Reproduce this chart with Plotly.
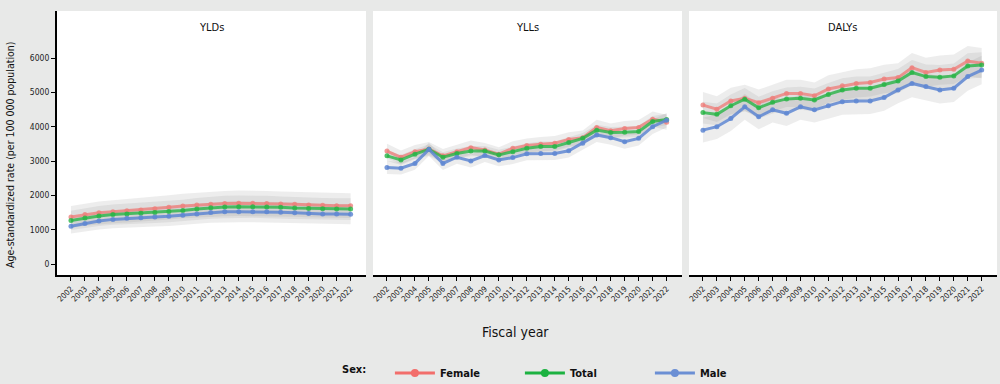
import plotly.graph_objects as go

years = list(range(2002, 2023))
tick_labels = [str(y) for y in years]
panels = ["YLDs", "YLLs", "DALYs"]
sexes = ["Female", "Total", "Male"]

# Age-standardized rates (per 100 000 population)
yld_female = [1370, 1440, 1490, 1520, 1550, 1570, 1610, 1650, 1690, 1720, 1740, 1760, 1770, 1770, 1760, 1750, 1740, 1720, 1710, 1700, 1700]
yld_total = [1270, 1340, 1400, 1440, 1460, 1480, 1500, 1530, 1560, 1600, 1640, 1660, 1670, 1670, 1660, 1650, 1630, 1620, 1610, 1600, 1600]
yld_male = [1100, 1180, 1250, 1300, 1330, 1350, 1370, 1390, 1420, 1460, 1500, 1520, 1520, 1520, 1520, 1510, 1490, 1470, 1460, 1460, 1450]

yll_female = [3290, 3110, 3270, 3350, 3150, 3270, 3390, 3320, 3200, 3370, 3450, 3490, 3520, 3630, 3680, 3980, 3880, 3950, 3980, 4220, 4130]
yll_total = [3150, 3030, 3200, 3340, 3110, 3220, 3290, 3290, 3180, 3270, 3370, 3420, 3420, 3540, 3660, 3900, 3830, 3840, 3860, 4150, 4210]
yll_male = [2810, 2790, 2930, 3340, 2930, 3110, 3000, 3160, 3030, 3100, 3210, 3220, 3220, 3300, 3520, 3760, 3680, 3560, 3660, 4000, 4190]

daly_female = [4630, 4510, 4750, 4830, 4700, 4830, 4970, 4970, 4900, 5100, 5190, 5260, 5290, 5390, 5430, 5720, 5580, 5650, 5670, 5910, 5850]
daly_total = [4410, 4360, 4610, 4800, 4550, 4710, 4810, 4830, 4780, 4940, 5070, 5120, 5120, 5230, 5330, 5580, 5460, 5440, 5480, 5770, 5800]
daly_male = [3900, 4000, 4240, 4580, 4290, 4490, 4390, 4580, 4490, 4610, 4730, 4750, 4750, 4850, 5070, 5260, 5170, 5070, 5120, 5460, 5650]

# 95% uncertainty half-widths
yld_female_hw = [320, 325, 330, 335, 340, 340, 345, 350, 355, 360, 365, 370, 370, 370, 370, 365, 365, 360, 360, 360, 360]
yld_total_hw = [280, 285, 290, 295, 300, 300, 305, 310, 315, 320, 320, 325, 325, 325, 325, 320, 320, 315, 315, 315, 315]
yld_male_hw = [210, 230, 245, 255, 265, 270, 275, 280, 285, 290, 295, 300, 300, 300, 300, 295, 295, 290, 290, 290, 290]

yll_female_hw = [210, 200, 200, 205, 200, 200, 210, 205, 200, 205, 205, 210, 210, 210, 210, 220, 215, 215, 215, 220, 220]
yll_total_hw = [150, 145, 145, 150, 145, 145, 150, 150, 145, 150, 150, 150, 150, 155, 155, 160, 160, 160, 160, 165, 165]
yll_male_hw = [190, 185, 185, 195, 190, 190, 190, 190, 185, 190, 190, 190, 190, 195, 200, 205, 205, 205, 205, 210, 210]

daly_female_hw = [380, 375, 385, 390, 380, 385, 395, 395, 390, 400, 405, 410, 410, 415, 415, 430, 425, 425, 430, 440, 440]
daly_total_hw = [320, 315, 325, 330, 320, 325, 335, 335, 330, 335, 340, 345, 345, 350, 350, 360, 355, 355, 360, 370, 370]
daly_male_hw = [360, 355, 365, 380, 365, 370, 370, 375, 370, 375, 380, 380, 380, 385, 390, 400, 395, 395, 400, 410, 415]

y_ticks = [0, 1000, 2000, 3000, 4000, 5000, 6000]

series = {
    "YLDs": {"Female": (yld_female, yld_female_hw), "Total": (yld_total, yld_total_hw), "Male": (yld_male, yld_male_hw)},
    "YLLs": {"Female": (yll_female, yll_female_hw), "Total": (yll_total, yll_total_hw), "Male": (yll_male, yll_male_hw)},
    "DALYs": {"Female": (daly_female, daly_female_hw), "Total": (daly_total, daly_total_hw), "Male": (daly_male, daly_male_hw)},
}

line_colors = {"Female": "rgba(238,128,124,0.80)", "Total": "rgba(40,180,70,0.80)", "Male": "rgba(95,135,210,0.85)"}
legend_colors = {"Female": "#F26E6B", "Total": "#1CB241", "Male": "#6B8FD4"}

FONT = "Liberation Sans Narrow, DejaVu Sans Condensed, Arial Narrow, sans-serif"

fig = go.Figure()

W_PLOT = 940.0
H_PLOT = 264.0
domains = [[0, 309 / W_PLOT], [316 / W_PLOT, 625 / W_PLOT], [632 / W_PLOT, 1.0]]

for i, p in enumerate(panels):
    xa = "x" if i == 0 else f"x{i+1}"
    ya = "y" if i == 0 else f"y{i+1}"
    for s in sexes:
        vals, hw = series[p][s]
        upper = [v + h for v, h in zip(vals, hw)]
        lower = [v - h for v, h in zip(vals, hw)]
        fig.add_trace(go.Scatter(
            x=years + years[::-1], y=upper + lower[::-1],
            fill="toself", fillcolor="rgba(150,150,150,0.17)",
            line=dict(width=0), mode="lines", hoverinfo="skip",
            showlegend=False, xaxis=xa, yaxis=ya))
    for s in sexes:
        vals, hw = series[p][s]
        fig.add_trace(go.Scatter(
            x=years, y=vals, mode="lines+markers", name=s,
            line=dict(color=line_colors[s], width=3),
            marker=dict(color=line_colors[s], size=5),
            showlegend=False, xaxis=xa, yaxis=ya))

# legend entries
for s in sexes:
    fig.add_trace(go.Scatter(
        x=[None], y=[None], mode="lines+markers", name=f"<b>{s}</b>",
        line=dict(color=legend_colors[s], width=3),
        marker=dict(color=legend_colors[s], size=8),
        showlegend=True, xaxis="x", yaxis="y"))

axis_common = dict(
    tickmode="array", tickvals=years, ticktext=tick_labels, tickangle=-45,
    range=[2001, 2023.1], showline=True, linecolor="black", linewidth=2,
    ticks="outside", ticklen=4, tickwidth=1.2, tickcolor="black",
    showgrid=False, zeroline=False, tickfont=dict(family=FONT, size=8, color="#222"),
)
layout_axes = {}
for i in range(3):
    key = "xaxis" if i == 0 else f"xaxis{i+1}"
    ykey = "yaxis" if i == 0 else f"yaxis{i+1}"
    layout_axes[key] = dict(axis_common, domain=domains[i], anchor="y" if i == 0 else f"y{i+1}")
    if i == 0:
        layout_axes[ykey] = dict(
            range=[-320, 7370], tickvals=y_ticks, showline=True, linecolor="black", linewidth=2,
            ticks="outside", ticklen=4, tickwidth=1.2, tickcolor="black", showgrid=False,
            zeroline=False, tickfont=dict(family=FONT, size=8.5, color="#222"), anchor="x")
    else:
        layout_axes[ykey] = dict(
            range=[-320, 7370], showticklabels=False, showline=False, ticks="",
            showgrid=False, zeroline=False, anchor=f"x{i+1}")

annotations = []
for i, p in enumerate(panels):
    cx = (domains[i][0] + domains[i][1]) / 2
    annotations.append(dict(text=p, x=cx, y=0.939, xref="paper", yref="paper",
                            showarrow=False, font=dict(family=FONT, size=11, color="#111"),
                            xanchor="center", yanchor="middle"))
annotations.append(dict(text="Fiscal year", x=(515 - 57) / W_PLOT, y=-(332 - 275) / H_PLOT, xref="paper", yref="paper",
                        showarrow=False, font=dict(family=FONT, size=14, color="#111"),
                        xanchor="center", yanchor="middle"))
annotations.append(dict(text="Age-standardized rate (per 100 000 population)", textangle=-90,
                        x=(10 - 57) / W_PLOT, y=(275 - 155) / H_PLOT, xref="paper", yref="paper",
                        showarrow=False, font=dict(family=FONT, size=10.5, color="#111"),
                        xanchor="center", yanchor="middle"))

fig.update_layout(
    width=1000, height=384,
    margin=dict(l=57, r=3, t=11, b=109, autoexpand=False),
    paper_bgcolor="#E8E9E8", plot_bgcolor="white",
    font=dict(family=FONT, color="#111"),
    annotations=annotations,
    legend=dict(orientation="h", x=(340 - 57) / W_PLOT, y=-(373 - 275) / H_PLOT, xanchor="left", yanchor="middle",
                title=dict(text="<b>Sex:</b>     ", side="left", font=dict(family=FONT, size=11)),
                font=dict(family=FONT, size=11), bgcolor="rgba(0,0,0,0)",
                entrywidth=75, entrywidthmode="pixels", itemwidth=40),
    **layout_axes,
)

fig.write_html("out.html", config={"displayModeBar": False},
               post_script="document.body.style.margin='0';document.body.style.overflow='hidden';")
